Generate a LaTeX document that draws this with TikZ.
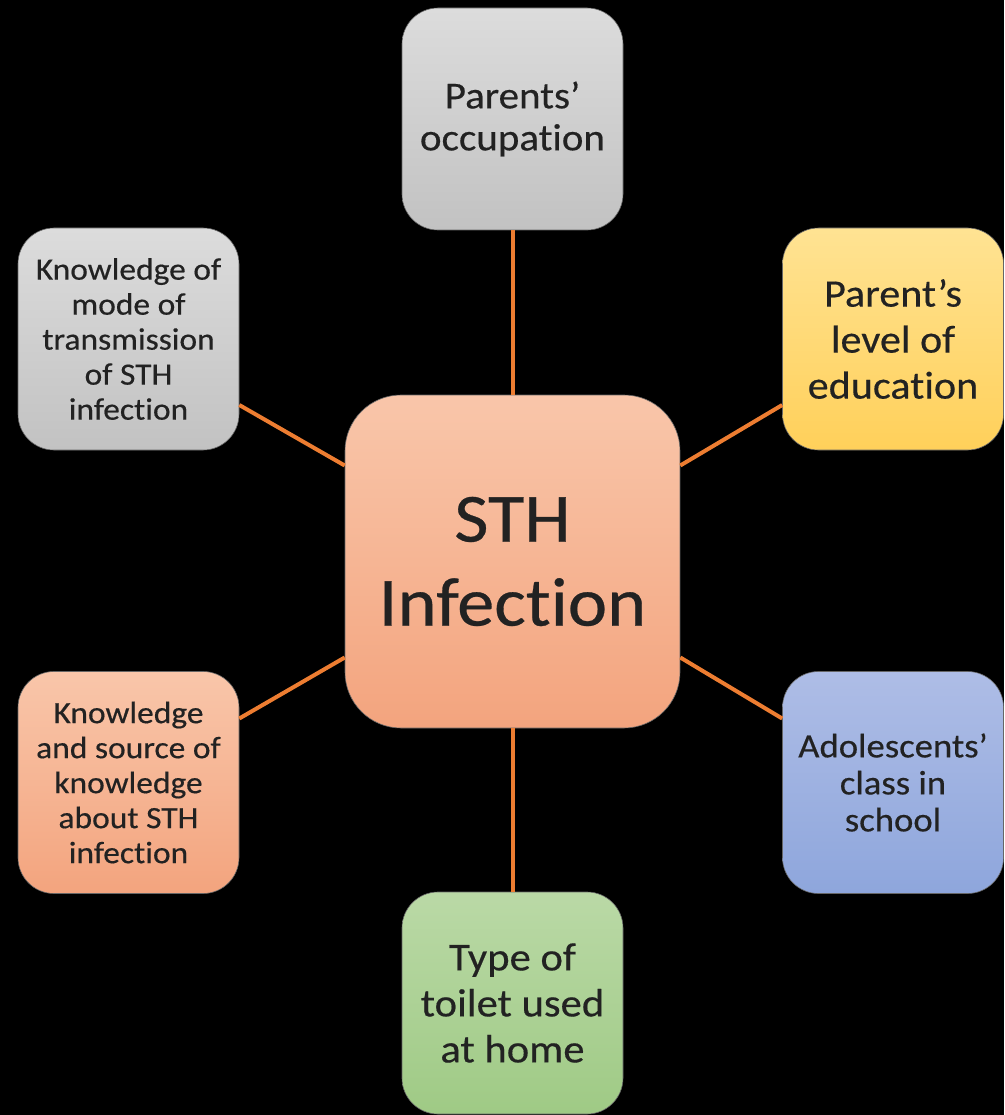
\documentclass[tikz,border=0pt]{standalone}
\usepackage{fontspec}
\setmainfont{Carlito}[FakeStretch=1.08, FakeBold=0.4, RawFeature=-liga]
\definecolor{conn}{HTML}{ED7D31}
\definecolor{txt}{HTML}{222222}
\definecolor{grayT}{HTML}{DCDCDC}
\definecolor{grayB}{HTML}{C2C2C2}
\definecolor{yelT}{HTML}{FFE393}
\definecolor{yelB}{HTML}{FFD05A}
\definecolor{bluT}{HTML}{AEBDE6}
\definecolor{bluB}{HTML}{8EA6DC}
\definecolor{grnT}{HTML}{BAD9A6}
\definecolor{grnB}{HTML}{9FCA85}
\definecolor{salT}{HTML}{F9C6AA}
\definecolor{salB}{HTML}{F3A47E}
\tikzset{
  box/.style={rounded corners=36pt, minimum width=221pt, minimum height=222pt,
    align=center, text=txt, inner sep=0pt, draw=black!60, line width=0.6pt},
  centerbox/.style={rounded corners=56pt, minimum width=335pt, minimum height=333pt,
    align=center, text=txt, inner sep=0pt, draw=black!60, line width=0.6pt,
    top color=salT, bottom color=salB,
    font=\fontsize{69}{84}\selectfont},
  graybox/.style={box, top color=grayT, bottom color=grayB},
  yelbox/.style={box, top color=yelT, bottom color=yelB},
  blubox/.style={box, top color=bluT, bottom color=bluB},
  grnbox/.style={box, top color=grnT, bottom color=grnB},
  salbox/.style={box, top color=salT, bottom color=salB},
  conline/.style={draw=conn, line width=4pt},
}
\begin{document}
\begin{tikzpicture}[x=1pt,y=-1pt]
\fill[black] (0,0) rectangle (1004,1115);
\useasboundingbox (0,0) rectangle (1004,1115);

\node[centerbox] (c) at (512.5,561.5) {STH\\Infection};
\node[graybox, font=\fontsize{38}{42}\selectfont] (top) at (512.5,119) {Parents’\\occupation};
\node[yelbox, font=\fontsize{39}{46}\selectfont] (rt) at (893,339) {Parent’s\\level of\\education};
\node[blubox, font=\fontsize{34}{37}\selectfont] (rb) at (893,782.5) {Adolescents’\\class in\\school};
\node[grnbox, font=\fontsize{39.5}{46}\selectfont] (bot) at (512.5,1003) {Type of\\toilet used\\at home};
\node[graybox, font=\fontsize{31}{35}\selectfont] (lt) at (128.5,339) {Knowledge of\\mode of\\transmission\\of STH\\infection};
\node[salbox, font=\fontsize{31}{35}\selectfont] (lb) at (128.5,782.5) {Knowledge\\and source of\\knowledge\\about STH\\infection};

\draw[conline] (top.south) -- (c.north);
\draw[conline] (c.south) -- (bot.north);
\draw[conline] ([yshift=-66pt]lt.east) -- ([yshift=96pt]c.west);
\draw[conline] ([yshift=96pt]c.east) -- ([yshift=-66pt]rt.west);
\draw[conline] ([yshift=64pt]lb.east) -- ([yshift=-96pt]c.west);
\draw[conline] ([yshift=-96pt]c.east) -- ([yshift=64pt]rb.west);
\end{tikzpicture}
\end{document}
